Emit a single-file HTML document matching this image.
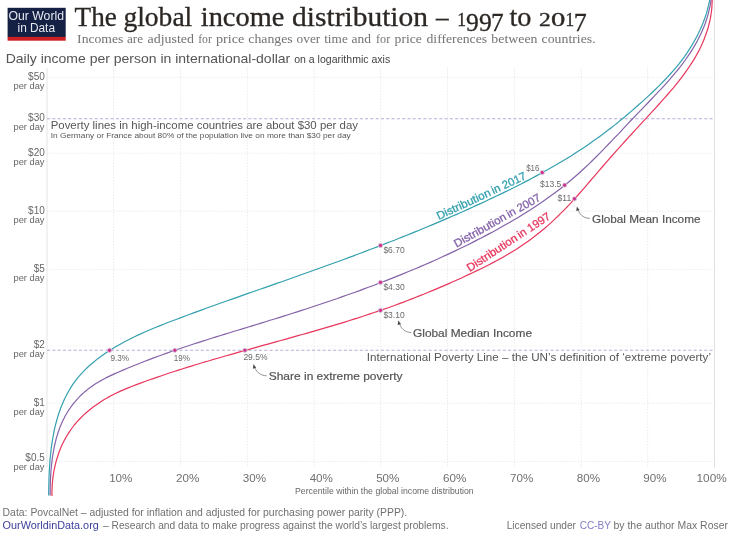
<!DOCTYPE html>
<html><head><meta charset="utf-8"><title>The global income distribution</title>
<style>html,body{margin:0;padding:0;background:#fff}svg{display:block;will-change:transform;opacity:0.999}</style></head>
<body>
<svg width="735" height="533" viewBox="0 0 735 533" font-family="'Liberation Sans', sans-serif">
<rect width="735" height="533" fill="#fff"/>
<g stroke="#ebebeb" stroke-width="1" stroke-dasharray="1.5,1.4" fill="none">
<path d="M47.0,77.3H714.5"/>
<path d="M47.0,153.2H714.5"/>
<path d="M47.0,211.2H714.5"/>
<path d="M47.0,269.4H714.5"/>
<path d="M47.0,346.0H714.5" stroke="#f1f1f1"/>
<path d="M47.0,403.2H714.5"/>
<path d="M47.0,461.5H714.5"/>
<path d="M113.60,67V467.5"/>
<path d="M180.40,67V467.5"/>
<path d="M247.30,67V467.5"/>
<path d="M314.10,67V467.5"/>
<path d="M380.60,67V467.5"/>
<path d="M447.50,67V467.5"/>
<path d="M514.40,67V467.5"/>
<path d="M581.20,67V467.5"/>
<path d="M647.70,67V467.5"/>
</g>
<path d="M47.0,68V467.5" stroke="#eaeaec" stroke-width="1.2" fill="none"/>
<path d="M714.5,0V467.5" stroke="#e0e0e3" stroke-width="1" fill="none"/>
<path d="M47.0,118.8H714.5M47.0,350.3H714.5" stroke="#b9acda" stroke-width="1.1" stroke-dasharray="3.1,2.2" fill="none"/>
<g fill="none" stroke-width="1.2" stroke-linecap="butt" stroke-linejoin="round">
<path d="M48.7,495.5L48.7,491.2L48.8,486.8L48.9,482.5L49.0,478.1L49.2,473.6L49.4,469.2L49.7,464.7L50.0,460.3L50.4,455.8L50.9,451.3L51.4,446.9L52.1,442.4L52.8,438.0L53.6,433.6L54.5,429.2L55.5,424.9L56.7,420.5L57.9,416.3L59.3,412.0L60.8,407.8L62.5,403.7L64.3,399.6L66.3,395.6L68.3,391.7L70.6,387.9L73.0,384.1L75.6,380.6L78.3,377.1L81.2,373.8L84.2,370.6L87.4,367.5L90.7,364.5L94.1,361.7L97.5,358.9L101.1,356.3L104.7,353.8L108.4,351.3L112.2,348.9L115.9,346.6L119.8,344.4L123.7,342.3L127.6,340.2L131.5,338.2L135.5,336.3L139.6,334.4L143.6,332.5L147.7,330.7L151.8,329.0L156.0,327.3L160.1,325.6L164.3,324.0L168.4,322.3L172.6,320.7L176.8,319.2L181.0,317.6L185.2,316.0L189.4,314.5L193.6,312.9L197.8,311.4L202.0,309.9L206.2,308.3L210.4,306.8L214.6,305.3L218.8,303.8L223.0,302.3L227.2,300.8L231.4,299.4L235.6,297.9L239.8,296.4L243.9,294.9L248.1,293.4L252.3,292.0L256.5,290.5L260.7,289.0L264.9,287.6L269.1,286.1L273.3,284.6L277.5,283.1L281.7,281.7L285.9,280.2L290.1,278.7L294.2,277.3L298.4,275.8L302.6,274.3L306.8,272.8L311.0,271.3L315.2,269.8L319.4,268.3L323.5,266.8L327.7,265.3L331.9,263.8L336.1,262.3L340.3,260.7L344.4,259.2L348.6,257.6L352.8,256.1L356.9,254.5L361.1,253.0L365.3,251.4L369.4,249.8L373.6,248.2L377.8,246.6L381.9,245.0L386.1,243.4L390.2,241.8L394.4,240.2L398.5,238.5L402.6,236.9L406.8,235.2L410.9,233.6L415.0,231.9L419.2,230.2L423.3,228.5L427.4,226.8L431.5,225.1L435.6,223.4L439.7,221.6L443.8,219.9L447.9,218.1L452.0,216.3L456.1,214.6L460.2,212.8L464.2,211.0L468.3,209.1L472.4,207.3L476.4,205.4L480.5,203.6L484.5,201.7L488.5,199.8L492.6,197.9L496.6,196.0L500.6,194.1L504.6,192.1L508.6,190.2L512.6,188.2L516.6,186.2L520.6,184.2L524.5,182.1L528.5,180.1L532.4,178.0L536.4,175.9L540.3,173.8L544.2,171.6L548.0,169.5L551.9,167.3L555.8,165.1L559.6,162.8L563.4,160.5L567.2,158.2L571.0,155.9L574.7,153.5L578.5,151.1L582.2,148.7L585.9,146.2L589.5,143.7L593.2,141.1L596.8,138.6L600.4,135.9L604.0,133.3L607.5,130.6L611.0,127.9L614.5,125.1L618.0,122.4L621.4,119.5L624.9,116.7L628.3,113.8L631.7,110.9L635.0,108.0L638.4,105.0L641.7,102.1L645.0,99.1L648.3,96.1L651.6,93.0L654.8,90.0L658.0,86.9L661.2,83.7L664.3,80.5L667.3,77.3L670.3,74.0L673.3,70.7L676.2,67.3L679.0,63.9L681.7,60.3L684.3,56.8L686.9,53.1L689.3,49.4L691.7,45.6L693.9,41.8L696.1,37.9L698.1,34.0L700.0,30.0L701.8,25.9L703.5,21.8L705.0,17.6L706.4,13.4L707.6,9.1L708.7,4.7L709.7,0.3L710.5,-4.1" stroke="#33a0ae"/>
<path d="M50.2,495.6L50.2,494.0L50.2,492.3L50.2,490.7L50.2,489.0L50.2,487.3L50.3,485.7L50.3,484.0L50.4,482.3L50.4,480.6L50.5,478.9L50.6,477.2L50.7,475.5L50.8,473.8L50.9,472.1L51.0,470.4L51.2,468.7L51.3,467.0L51.5,465.3L51.7,463.6L51.9,461.9L52.1,460.2L52.3,458.5L52.5,456.8L52.8,455.1L53.1,453.4L53.4,451.7L53.7,450.0L54.0,448.3L54.3,446.6L54.7,445.0L55.1,443.3L55.5,441.7L55.9,440.0L56.3,438.4L56.8,436.7L57.3,435.1L57.8,433.5L58.3,431.9L58.9,430.3L59.4,428.7L60.0,427.1L60.7,425.6L61.3,424.0L62.0,422.5L62.7,421.0L63.4,419.5L64.2,418.0L64.9,416.5L65.7,415.0L66.6,413.6L67.4,412.2L68.3,410.8L69.2,409.4L70.2,408.0L71.1,406.6L72.1,405.3L73.2,403.9L74.2,402.6L75.3,401.4L76.4,400.1L77.5,398.8L78.7,397.6L79.8,396.4L81.0,395.2L82.3,394.0L83.5,392.9L84.8,391.8L86.1,390.7L87.4,389.6L88.8,388.5L90.2,387.5L91.6,386.5L93.0,385.5L94.4,384.5L95.9,383.6L97.4,382.7L98.9,381.8L100.4,380.9L102.0,380.1L105.8,377.9L110.1,375.9L114.4,373.9L118.7,372.0L123.0,370.1L127.4,368.3L131.7,366.5L136.1,364.7L140.5,363.0L144.8,361.2L149.2,359.6L153.6,357.9L158.0,356.3L162.5,354.7L166.9,353.1L171.3,351.5L175.8,350.0L180.2,348.5L184.7,347.0L189.2,345.5L193.6,344.0L198.1,342.6L202.6,341.1L207.1,339.7L211.6,338.3L216.1,336.9L220.6,335.5L225.1,334.1L229.6,332.7L234.1,331.3L238.6,330.0L243.1,328.6L247.6,327.2L252.1,325.9L256.6,324.5L261.1,323.1L265.6,321.7L270.1,320.3L274.6,319.0L279.1,317.6L283.6,316.1L288.1,314.7L292.6,313.3L297.1,311.9L301.6,310.4L306.1,309.0L310.6,307.5L315.0,306.0L319.5,304.5L324.0,303.0L328.5,301.5L332.9,300.0L337.4,298.5L341.8,296.9L346.3,295.3L350.7,293.8L355.1,292.2L359.6,290.6L364.0,288.9L368.4,287.3L372.8,285.7L377.2,284.0L381.6,282.3L386.0,280.6L390.4,278.9L394.8,277.1L399.2,275.4L403.5,273.6L407.9,271.8L412.2,270.0L416.6,268.2L420.9,266.4L425.2,264.5L429.6,262.6L433.9,260.7L438.2,258.8L442.4,256.8L446.7,254.9L451.0,252.9L455.2,250.9L459.5,248.8L463.7,246.8L467.9,244.7L472.2,242.6L476.4,240.4L480.6,238.3L484.7,236.1L488.9,233.9L493.1,231.7L497.2,229.4L501.3,227.1L505.4,224.8L509.5,222.5L513.6,220.1L517.7,217.7L521.7,215.3L525.7,212.8L529.7,210.3L533.6,207.7L537.6,205.1L541.4,202.5L545.3,199.8L549.1,197.1L552.9,194.3L556.7,191.5L560.4,188.7L564.1,185.8L567.8,182.8L571.4,179.8L574.9,176.8L578.4,173.7L581.9,170.5L585.4,167.3L588.8,164.1L592.2,160.8L595.5,157.5L598.8,154.2L602.1,150.8L605.4,147.4L608.7,144.0L612.0,140.6L615.2,137.2L618.5,133.8L621.7,130.3L624.9,126.9L628.2,123.4L631.4,120.0L634.7,116.6L638.0,113.2L641.2,109.8L644.5,106.4L647.8,103.0L651.0,99.5L654.3,96.1L657.5,92.7L660.8,89.3L664.0,85.8L667.1,82.3L670.2,78.8L673.3,75.2L676.3,71.6L679.3,68.0L682.1,64.3L684.9,60.5L687.6,56.7L690.2,52.8L692.7,48.9L695.1,44.9L697.4,40.8L699.5,36.6L701.5,32.4L703.4,28.1L705.1,23.7L706.6,19.3L708.0,14.7L709.1,10.1L710.2,5.4L711.0,0.6L711.6,-4.3" stroke="#8463a9"/>
<path d="M52.0,496.1L51.9,491.5L52.1,487.0L52.4,482.5L52.9,477.9L53.5,473.5L54.3,469.0L55.3,464.6L56.4,460.3L57.8,456.0L59.2,451.8L60.9,447.6L62.7,443.6L64.7,439.6L66.9,435.8L69.2,432.1L71.7,428.5L74.3,425.0L77.1,421.7L80.1,418.5L83.2,415.4L86.4,412.5L89.8,409.7L93.2,407.0L96.8,404.4L100.5,401.9L104.2,399.6L108.0,397.4L111.9,395.3L115.9,393.3L119.9,391.4L124.0,389.6L128.1,387.9L132.2,386.2L136.4,384.6L140.6,383.1L144.8,381.5L149.0,380.0L153.2,378.6L157.4,377.1L161.6,375.7L165.8,374.2L170.1,372.8L174.3,371.5L178.5,370.1L182.8,368.7L187.0,367.4L191.3,366.1L195.5,364.8L199.8,363.5L204.0,362.2L208.3,361.0L212.5,359.7L216.8,358.5L221.1,357.2L225.3,356.0L229.6,354.8L233.9,353.6L238.1,352.4L242.4,351.2L246.7,350.0L250.9,348.8L255.2,347.6L259.5,346.4L263.8,345.2L268.0,344.1L272.3,342.9L276.6,341.7L280.9,340.5L285.1,339.3L289.4,338.1L293.7,336.9L297.9,335.7L302.2,334.5L306.5,333.3L310.7,332.1L315.0,330.9L319.2,329.7L323.5,328.4L327.7,327.2L332.0,325.9L336.2,324.6L340.5,323.4L344.7,322.1L348.9,320.7L353.1,319.4L357.4,318.1L361.6,316.7L365.8,315.3L370.0,313.9L374.2,312.5L378.4,311.1L382.6,309.6L386.8,308.2L391.0,306.7L395.1,305.2L399.3,303.6L403.5,302.1L407.6,300.5L411.8,298.9L415.9,297.3L420.0,295.6L424.2,294.0L428.3,292.3L432.4,290.6L436.5,288.9L440.6,287.1L444.7,285.4L448.8,283.6L452.8,281.8L456.9,280.0L461.0,278.2L465.0,276.3L469.0,274.4L473.1,272.5L477.1,270.6L481.1,268.7L485.1,266.7L489.0,264.7L493.0,262.6L496.9,260.5L500.8,258.4L504.6,256.2L508.4,254.0L512.2,251.7L516.0,249.4L519.7,247.0L523.4,244.5L527.0,242.0L530.6,239.4L534.1,236.8L537.6,234.1L541.1,231.3L544.5,228.5L547.8,225.6L551.1,222.6L554.3,219.6L557.6,216.5L560.7,213.4L563.8,210.3L566.9,207.1L570.0,203.8L573.0,200.6L576.0,197.3L578.9,194.0L581.9,190.6L584.8,187.3L587.7,183.9L590.6,180.5L593.5,177.1L596.4,173.8L599.3,170.4L602.2,167.0L605.1,163.7L608.0,160.3L610.9,157.0L613.9,153.7L616.8,150.4L619.8,147.1L622.7,143.8L625.7,140.5L628.7,137.2L631.7,134.0L634.7,130.7L637.7,127.4L640.7,124.2L643.7,120.9L646.7,117.6L649.7,114.4L652.7,111.1L655.7,107.8L658.7,104.5L661.7,101.2L664.6,97.9L667.6,94.5L670.5,91.2L673.4,87.8L676.2,84.3L679.0,80.9L681.7,77.4L684.3,73.8L686.9,70.2L689.4,66.5L691.8,62.8L694.2,59.1L696.4,55.2L698.5,51.4L700.5,47.4L702.3,43.5L704.0,39.4L705.6,35.3L707.0,31.2L708.3,27.0L709.4,22.7L710.4,18.4L711.1,14.0L711.7,9.5L712.0,5.0L712.2,0.4L712.1,-4.2" stroke="#e8365d"/>
</g>
<g fill="#cc3390" stroke="#d6ccd9" stroke-width="0.9">
<circle cx="109.5" cy="350.3" r="2.15"/>
<circle cx="174.9" cy="350.3" r="2.15"/>
<circle cx="244.9" cy="350.3" r="2.15"/>
<circle cx="380.5" cy="245.5" r="2.15"/>
<circle cx="380.5" cy="282.4" r="2.15"/>
<circle cx="380.5" cy="310.4" r="2.15"/>
<circle cx="542.2" cy="172.6" r="2.15"/>
<circle cx="564.7" cy="185.1" r="2.15"/>
<circle cx="574.5" cy="198.8" r="2.15"/>
</g>
<rect x="7.6" y="7.8" width="58.1" height="29.3" fill="#152144"/>
<rect x="7.6" y="36.9" width="58.1" height="3.8" fill="#cd1f22"/>
<g font-size="12" fill="#e6e8f0">
<text x="8.5" y="19.8" textLength="55.5" lengthAdjust="spacingAndGlyphs">Our World</text>
<text x="17.5" y="32.4" textLength="37.5" lengthAdjust="spacingAndGlyphs">in Data</text>
</g>
<g font-family="'Liberation Serif', serif" font-size="27" fill="#2b2724" stroke="#2b2724" stroke-width="0.3">
<text x="74.6" y="26.3" textLength="42.2" lengthAdjust="spacingAndGlyphs">The</text>
<text x="123.4" y="26.3" textLength="68.9" lengthAdjust="spacingAndGlyphs">global</text>
<text x="200.8" y="26.3" textLength="83.5" lengthAdjust="spacingAndGlyphs">income</text>
<text x="292.1" y="26.3" textLength="135.9" lengthAdjust="spacingAndGlyphs">distribution</text>
<text x="435.9" y="26.3" textLength="12.6" lengthAdjust="spacingAndGlyphs">–</text>
<text x="509.4" y="26.3" textLength="22.0" lengthAdjust="spacingAndGlyphs">to</text>
<text x="457.2" y="26.1" font-size="17.8" textLength="8.7" lengthAdjust="spacingAndGlyphs">1</text>
<text x="466.1" y="31" font-size="26" textLength="25.6" lengthAdjust="spacingAndGlyphs">99</text>
<text x="490.9" y="31" font-size="26" textLength="12.6" lengthAdjust="spacingAndGlyphs">7</text>
<text x="539.1" y="26.1" font-size="17.8" textLength="11.8" lengthAdjust="spacingAndGlyphs">2</text>
<text x="550.9" y="26.1" font-size="17.8" textLength="14.3" lengthAdjust="spacingAndGlyphs">0</text>
<text x="565.4" y="26.1" font-size="17.8" textLength="8.6" lengthAdjust="spacingAndGlyphs">1</text>
<text x="573.8" y="31" font-size="26" textLength="13.0" lengthAdjust="spacingAndGlyphs">7</text>
</g>
<g font-family="'Liberation Serif', serif" font-size="12.6" fill="#737373">
<text x="77.1" y="42.5" textLength="46.3" lengthAdjust="spacingAndGlyphs">Incomes</text>
<text x="126.9" y="42.5" textLength="16.1" lengthAdjust="spacingAndGlyphs">are</text>
<text x="147.5" y="42.5" textLength="46.4" lengthAdjust="spacingAndGlyphs">adjusted</text>
<text x="198.2" y="42.5" textLength="13.7" lengthAdjust="spacingAndGlyphs">for</text>
<text x="216.0" y="42.5" textLength="28.4" lengthAdjust="spacingAndGlyphs">price</text>
<text x="248.3" y="42.5" textLength="44.4" lengthAdjust="spacingAndGlyphs">changes</text>
<text x="296.6" y="42.5" textLength="23.7" lengthAdjust="spacingAndGlyphs">over</text>
<text x="324.2" y="42.5" textLength="23.6" lengthAdjust="spacingAndGlyphs">time</text>
<text x="351.6" y="42.5" textLength="19.4" lengthAdjust="spacingAndGlyphs">and</text>
<text x="376.0" y="42.5" textLength="14.2" lengthAdjust="spacingAndGlyphs">for</text>
<text x="394.6" y="42.5" textLength="27.2" lengthAdjust="spacingAndGlyphs">price</text>
<text x="426.5" y="42.5" textLength="60.6" lengthAdjust="spacingAndGlyphs">differences</text>
<text x="491.3" y="42.5" textLength="46.2" lengthAdjust="spacingAndGlyphs">between</text>
<text x="541.6" y="42.5" textLength="54.0" lengthAdjust="spacingAndGlyphs">countries.</text>
</g>
<text x="5.7" y="62.6" font-size="13.4" fill="#555" textLength="284.6" lengthAdjust="spacingAndGlyphs">Daily income per person in international-dollar</text>
<text x="294.2" y="62.6" font-size="10.1" fill="#444" textLength="96" lengthAdjust="spacingAndGlyphs">on a logarithmic axis</text>
<g font-size="9.5" fill="#666" text-anchor="end">
<text x="44.8" y="80.1" font-size="10">$50</text>
<text x="44.5" y="89.1" textLength="31" lengthAdjust="spacingAndGlyphs">per day</text>
<text x="44.8" y="121.4" font-size="10">$30</text>
<text x="44.5" y="130.4" textLength="31" lengthAdjust="spacingAndGlyphs">per day</text>
<text x="44.8" y="156.0" font-size="10">$20</text>
<text x="44.5" y="165.0" textLength="31" lengthAdjust="spacingAndGlyphs">per day</text>
<text x="44.8" y="214.0" font-size="10">$10</text>
<text x="44.5" y="223.0" textLength="31" lengthAdjust="spacingAndGlyphs">per day</text>
<text x="44.8" y="272.2" font-size="10">$5</text>
<text x="44.5" y="281.2" textLength="31" lengthAdjust="spacingAndGlyphs">per day</text>
<text x="44.8" y="347.8" font-size="10">$2</text>
<text x="44.5" y="356.8" textLength="31" lengthAdjust="spacingAndGlyphs">per day</text>
<text x="44.8" y="406.0" font-size="10">$1</text>
<text x="44.5" y="415.0" textLength="31" lengthAdjust="spacingAndGlyphs">per day</text>
<text x="44.8" y="460.9" font-size="10">$0.5</text>
<text x="44.5" y="469.9" textLength="31" lengthAdjust="spacingAndGlyphs">per day</text>
</g>
<g font-size="11.8" fill="#707070" text-anchor="middle">
<text x="120.8" y="482" textLength="23.3" lengthAdjust="spacingAndGlyphs">10%</text>
<text x="187.6" y="482" textLength="23.3" lengthAdjust="spacingAndGlyphs">20%</text>
<text x="254.5" y="482" textLength="23.3" lengthAdjust="spacingAndGlyphs">30%</text>
<text x="321.3" y="482" textLength="23.3" lengthAdjust="spacingAndGlyphs">40%</text>
<text x="387.8" y="482" textLength="23.3" lengthAdjust="spacingAndGlyphs">50%</text>
<text x="454.7" y="482" textLength="23.3" lengthAdjust="spacingAndGlyphs">60%</text>
<text x="521.6" y="482" textLength="23.3" lengthAdjust="spacingAndGlyphs">70%</text>
<text x="588.4" y="482" textLength="23.3" lengthAdjust="spacingAndGlyphs">80%</text>
<text x="654.9" y="482" textLength="23.3" lengthAdjust="spacingAndGlyphs">90%</text>
<text x="711.6" y="482" textLength="30.2" lengthAdjust="spacingAndGlyphs">100%</text>
</g>
<text x="295" y="494.2" font-size="8.4" fill="#666" textLength="178.7" lengthAdjust="spacingAndGlyphs">Percentile within the global income distribution</text>
<text x="50.7" y="129" font-size="11.1" fill="#555" textLength="307.3" lengthAdjust="spacingAndGlyphs">Poverty lines in high-income countries are about $30 per day</text>
<text x="50.7" y="138.3" font-size="8.1" fill="#555" textLength="300" lengthAdjust="spacingAndGlyphs">In Germany or France about 80% of the population live on more than $30 per day</text>
<text x="366.7" y="361.3" font-size="11.1" fill="#555" textLength="344.3" lengthAdjust="spacingAndGlyphs">International Poverty Line – the UN’s definition of ‘extreme poverty’</text>
<g font-size="11.5" fill="#555" stroke="#555" stroke-width="0.2">
<text x="268.7" y="379.6" textLength="133.8" lengthAdjust="spacingAndGlyphs">Share in extreme poverty</text>
<text x="413" y="337" textLength="119" lengthAdjust="spacingAndGlyphs">Global Median Income</text>
<text x="592" y="223" textLength="108.5" lengthAdjust="spacingAndGlyphs">Global Mean Income</text>
</g>
<g fill="none" stroke="#707070" stroke-width="0.75">
<path d="M266.6,375.8C261.5,375.6 257,373 255.2,368.3"/>
<path d="M411.2,332.6C406,332.4 401.7,329.5 399.9,324.8"/>
<path d="M589.9,218.4C584.5,218.2 580.3,215.5 578.5,210.8"/>
</g>
<g fill="#4d4d4d">
<path d="M253.5,364.1L252.8,368.8L256.3,367.9Z"/>
<path d="M398.3,320.4L397.6,325.1L401.1,324.2Z"/>
<path d="M576.9,206.4L576.2,211.1L579.7,210.2Z"/>
</g>
<g font-size="8.2" fill="#6a6a6a">
<text x="110.4" y="360.8" textLength="18.7" lengthAdjust="spacingAndGlyphs">9.3%</text>
<text x="173.7" y="360.6" textLength="16.1" lengthAdjust="spacingAndGlyphs">19%</text>
<text x="243.4" y="360.2" textLength="24.1" lengthAdjust="spacingAndGlyphs">29.5%</text>
<text x="383.4" y="252.8" textLength="21.3" lengthAdjust="spacingAndGlyphs">$6.70</text>
<text x="383.4" y="289.6" textLength="21.3" lengthAdjust="spacingAndGlyphs">$4.30</text>
<text x="383.4" y="317.8" textLength="21.3" lengthAdjust="spacingAndGlyphs">$3.10</text>
<text x="526.2" y="170.6" textLength="13.3" lengthAdjust="spacingAndGlyphs">$16</text>
<text x="540" y="186.8" textLength="21.3" lengthAdjust="spacingAndGlyphs">$13.5</text>
<text x="557.5" y="201.3" textLength="13.7" lengthAdjust="spacingAndGlyphs">$11</text>
</g>
<g font-size="11.2" fill="#33a0ae" stroke="#33a0ae" stroke-width="0.3" transform="translate(438.7,219.9) rotate(-25)">
<text x="0" y="0" textLength="58.3" lengthAdjust="spacingAndGlyphs">Distribution</text>
<text x="60.5" y="0" textLength="37" lengthAdjust="spacingAndGlyphs">in 2017</text>
</g>
<g font-size="11.2" fill="#8463a9" stroke="#8463a9" stroke-width="0.3" transform="translate(456.4,247.7) rotate(-29.3)">
<text x="0" y="0" textLength="58.3" lengthAdjust="spacingAndGlyphs">Distribution</text>
<text x="60.5" y="0" textLength="37" lengthAdjust="spacingAndGlyphs">in 2007</text>
</g>
<g font-size="11.2" fill="#e8365d" stroke="#e8365d" stroke-width="0.3" transform="translate(469.7,271.9) rotate(-33.3)">
<text x="0" y="0" textLength="58.3" lengthAdjust="spacingAndGlyphs">Distribution</text>
<text x="60.5" y="0" textLength="37" lengthAdjust="spacingAndGlyphs">in 1997</text>
</g>
<g font-size="10.4" fill="#707070">
<text x="2.6" y="515.7" textLength="404.6" lengthAdjust="spacingAndGlyphs">Data: PovcalNet – adjusted for inflation and adjusted for purchasing power parity (PPP).</text>
<text x="2.6" y="529" fill="#3d409c" textLength="96.2" lengthAdjust="spacingAndGlyphs">OurWorldinData.org</text>
<text x="103" y="529" textLength="345.5" lengthAdjust="spacingAndGlyphs">– Research and data to make progress against the world’s largest problems.</text>
<text x="506.7" y="529" textLength="69.3" lengthAdjust="spacingAndGlyphs">Licensed under</text>
<text x="579.7" y="529" fill="#807cc4" textLength="31.3" lengthAdjust="spacingAndGlyphs">CC-BY</text>
<text x="613.5" y="529" textLength="114.5" lengthAdjust="spacingAndGlyphs">by the author Max Roser</text>
</g>
</svg>
</body></html>
